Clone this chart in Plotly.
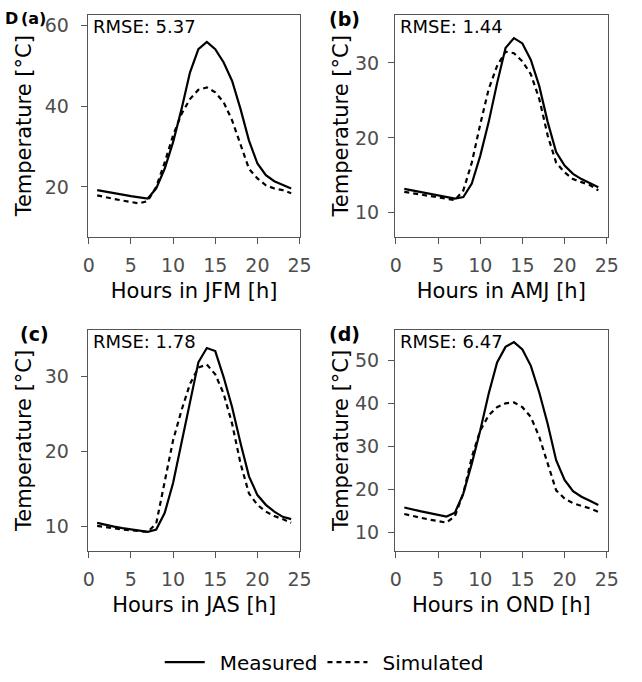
import plotly.graph_objects as go
from plotly.subplots import make_subplots

# hours of the day
hours = list(range(1, 25))

# panel (a) JFM
jfm_measured = [19.2, 18.8, 18.4, 18.0, 17.7, 17.4, 17.1, 19.6, 24.5, 31.1, 39.3, 48.4,
                54.2, 56.0, 54.2, 50.9, 46.3, 39.3, 31.5, 25.8, 22.9, 21.4, 20.4, 19.6]
jfm_simulated = [17.9, 17.4, 17.0, 16.6, 16.2, 15.9, 16.5, 20.0, 26.0, 32.8, 38.1, 41.8,
                 44.1, 44.7, 43.5, 41.0, 36.5, 30.3, 24.5, 22.1, 20.4, 19.6, 19.2, 18.4]
# panel (b) AMJ
amj_measured = [13.2, 13.0, 12.8, 12.6, 12.3, 12.1, 11.9, 12.1, 13.9, 17.6, 22.1, 27.3,
                32.0, 33.3, 32.6, 30.4, 26.9, 22.1, 18.1, 16.3, 15.2, 14.5, 14.0, 13.4]
amj_simulated = [12.8, 12.6, 12.4, 12.2, 12.0, 11.8, 11.7, 13.0, 16.7, 21.8, 26.5, 29.6,
                 31.5, 31.3, 30.2, 28.5, 25.2, 20.3, 16.7, 15.4, 14.5, 14.1, 13.7, 13.0]
# panel (c) JAS
jas_measured = [10.5, 10.2, 10.0, 9.8, 9.6, 9.4, 9.3, 9.6, 11.8, 15.8, 21.1, 26.8,
                31.9, 33.8, 33.4, 29.9, 25.9, 21.1, 16.7, 14.2, 12.9, 12.0, 11.3, 11.0]
jas_simulated = [10.1, 9.9, 9.7, 9.6, 9.5, 9.4, 9.3, 10.4, 15.8, 21.5, 25.5, 29.0,
                 31.2, 31.6, 30.3, 27.7, 23.7, 18.4, 14.4, 12.9, 12.0, 11.4, 11.0, 10.5]
# panel (d) OND
ond_measured = [15.8, 15.3, 14.9, 14.5, 14.1, 13.7, 14.6, 19.1, 26.0, 33.7, 42.2, 49.5,
                53.1, 54.2, 52.5, 48.7, 42.5, 35.2, 26.8, 22.2, 19.6, 18.3, 17.4, 16.4]
ond_simulated = [14.3, 13.8, 13.4, 13.0, 12.6, 12.3, 13.8, 19.1, 27.5, 33.7, 37.2, 39.1,
                 40.0, 40.2, 39.1, 36.8, 32.2, 26.0, 19.8, 17.9, 16.8, 16.2, 15.6, 14.8]

seasons = ["JFM", "AMJ", "JAS", "OND"]
rmse = ["5.37", "1.44", "1.78", "6.47"]
panel_labels = ["(a)", "(b)", "(c)", "(d)"]
measured = [jfm_measured, amj_measured, jas_measured, ond_measured]
simulated = [jfm_simulated, amj_simulated, jas_simulated, ond_simulated]
y_ranges = [[7.65, 62.7], [6.83, 36.4], [6.78, 36.2], [5.77, 57.0]]
y_ticks = [[20, 40, 60], [10, 20, 30], [10, 20, 30], [10, 20, 30, 40, 50]]

font = "DejaVu Sans, sans-serif"
W, H = 642, 682
fig = make_subplots(rows=2, cols=2)

positions = [(1, 1), (1, 2), (2, 1), (2, 2)]
# plot areas in pixels
x_px = [[85, 303], [400, 618]]
y_px = [[15, 238], [332, 554]]
x_domains = [[a / W, b / W] for a, b in x_px]
y_domains = [[1 - b / H, 1 - a / H] for a, b in y_px]
# tag centre (px) and size for (a), (b), (c), (d)
label_cx = [29, 348, 30, 348]
label_size = [16, 19, 19, 19]
tick_gap = [8, 5]
title_gap = [7, 0]

for i, (r, c) in enumerate(positions):
    fig.add_trace(go.Scatter(x=hours, y=measured[i], mode="lines", name="\u2002Measured",
                             line=dict(color="black", width=2.2), showlegend=(i == 0),
                             legendgroup="m"), row=r, col=c)
    fig.add_trace(go.Scatter(x=hours, y=simulated[i], mode="lines", name="\u2002Simulated",
                             line=dict(color="black", width=2.2, dash="5px,4px"),
                             showlegend=(i == 0), legendgroup="s"), row=r, col=c)
    fig.update_xaxes(range=[-0.1, 25.1], tickvals=[0, 5, 10, 15, 20, 25],
                     domain=x_domains[c - 1],
                     title=dict(text="Hours in " + seasons[i] + " [h]",
                                font=dict(size=21, color="black"), standoff=8),
                     row=r, col=c)
    fig.update_yaxes(range=y_ranges[i], tickvals=y_ticks[i], domain=y_domains[r - 1],
                     ticklabelstandoff=tick_gap[c - 1],
                     title=dict(text="Temperature [°C]",
                                font=dict(size=21, color="black"), standoff=title_gap[c - 1]),
                     row=r, col=c)
    xref = "x" + ("" if i == 0 else str(i + 1))
    yref = "y" + ("" if i == 0 else str(i + 1))
    fig.add_annotation(text="RMSE: " + rmse[i], xref=xref + " domain", yref=yref + " domain",
                       x=0.015, y=1.005, xanchor="left", yanchor="top", showarrow=False,
                       font=dict(size=18, color="black"))
    fig.add_annotation(text="<b>" + panel_labels[i] + "</b>", xref="paper", yref="paper",
                       x=label_cx[i] / W, y=1 - (y_px[r - 1][0] + 4) / H,
                       xanchor="center", yanchor="middle", showarrow=False, borderpad=0,
                       font=dict(size=label_size[i], color="black"))

# the stray "D" in front of panel (a)'s tag
fig.add_annotation(text="<b>D</b>", xref="paper", yref="paper", x=7 / W, y=1 - 19 / H,
                   xanchor="center", yanchor="middle", showarrow=False, borderpad=0,
                   font=dict(size=16, color="black"))

fig.update_xaxes(showline=True, mirror=True, linecolor="#555555", linewidth=1.2,
                 ticks="outside", ticklen=6, tickcolor="#555555", showgrid=False,
                 zeroline=False, ticklabelstandoff=5,
                 tickfont=dict(size=19, color="#4d4d4d"))
fig.update_yaxes(showline=True, mirror=True, linecolor="#555555", linewidth=1.2,
                 ticks="outside", ticklen=6, tickcolor="#555555", showgrid=False,
                 zeroline=False, tickfont=dict(size=19, color="#4d4d4d"))

fig.update_layout(
    width=W, height=H,
    margin=dict(l=0, r=0, t=0, b=0),
    plot_bgcolor="white", paper_bgcolor="white",
    font=dict(family=font, color="black"),
    legend=dict(orientation="h", x=0.51, xanchor="center", y=1 - 666 / H, yanchor="middle",
                font=dict(size=20), itemwidth=40, tracegroupgap=0),
)

# drop the browser's default page margin so the figure sits at (0, 0)
fig.write_html("out.html", config={"displayModeBar": False},
               post_script="document.body.style.margin='0';")
